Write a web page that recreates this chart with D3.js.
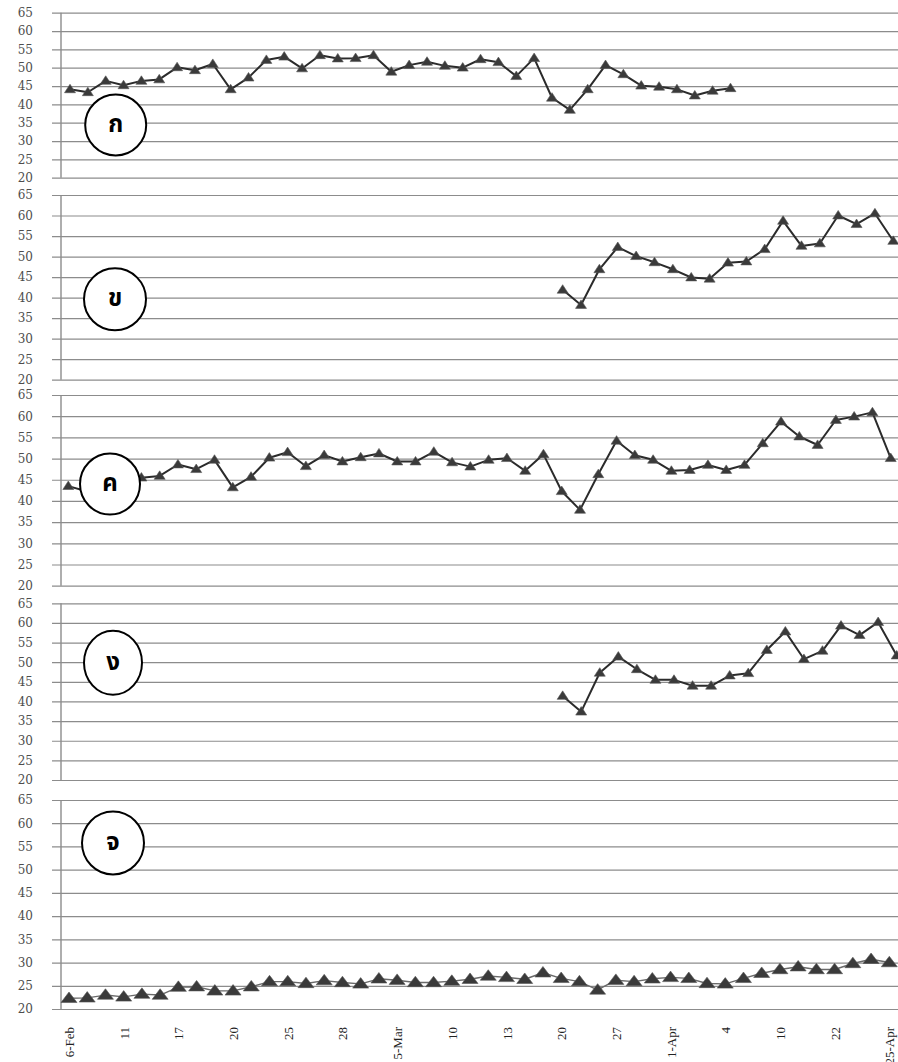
<!DOCTYPE html>
<html>
<head>
<meta charset="utf-8">
<script src="https://cdn.jsdelivr.net/npm/d3@7"></script>
<style>
  html, body { margin: 0; padding: 0; background: #fff; }
  svg { display: block; }
</style>
</head>
<body>
<svg id="chart" width="898" height="1062"></svg>
<script>
// Sampling slots along the shared date axis; only every third slot carries a label.
const xLabels = [
  "6-Feb", "", "", "11", "", "", "17", "", "", "20", "", "",
  "25", "", "", "28", "", "", "5-Mar", "", "", "10", "", "",
  "13", "", "", "20", "", "", "27", "", "", "1-Apr", "", "",
  "4", "", "", "10", "", "", "22", "", "", "25-Apr"
];
const yTicks = [20, 25, 30, 35, 40, 45, 50, 55, 60, 65];
const panelNames = ["ก", "ข", "ค", "ง", "จ"];

// Series values (first value sits on the slot given in seriesStart)
const seriesKo = [44.1, 43.3, 46.4, 45.2, 46.4, 46.8, 50.1, 49.3, 51.0, 44.1,
  47.3, 52.1, 53.0, 49.8, 53.4, 52.5, 52.6, 53.4, 48.9, 50.7,
  51.6, 50.5, 50.0, 52.3, 51.5, 47.7, 52.6, 41.8, 38.5, 44.1,
  50.7, 48.2, 45.1, 44.8, 44.1, 42.4, 43.7, 44.4];
const seriesKho = [41.9, 38.2, 46.9, 52.3, 50.1, 48.6, 46.9, 44.9, 44.6, 48.5,
  48.8, 51.8, 58.7, 52.6, 53.2, 60.0, 57.9, 60.5, 53.8];
const seriesKho2 = [43.5, 42.3, 44.8, 44.5, 45.5, 45.9, 48.6, 47.5, 49.7, 43.2,
  45.7, 50.2, 51.5, 48.2, 50.8, 49.3, 50.3, 51.2, 49.3, 49.3,
  51.6, 49.1, 48.1, 49.7, 50.1, 47.1, 51.0, 42.3, 37.9, 46.3,
  54.2, 50.8, 49.7, 47.1, 47.3, 48.5, 47.3, 48.5, 53.6, 58.7,
  55.2, 53.2, 59.1, 59.9, 60.9, 50.1];
const seriesNgo = [41.4, 37.4, 47.3, 51.4, 48.2, 45.5, 45.5, 44.0, 44.0, 46.6,
  47.2, 53.1, 57.8, 50.8, 52.9, 59.3, 56.9, 60.2, 51.7];
const seriesJo = [22.3, 22.4, 23.0, 22.6, 23.2, 23.0, 24.7, 24.8, 23.9, 23.9,
  24.8, 25.9, 25.9, 25.5, 26.1, 25.7, 25.4, 26.5, 26.2, 25.7,
  25.7, 26.0, 26.4, 27.1, 26.8, 26.4, 27.8, 26.6, 25.9, 24.1,
  26.2, 25.9, 26.5, 26.8, 26.6, 25.5, 25.4, 26.6, 27.7, 28.5,
  29.1, 28.5, 28.5, 29.8, 30.7, 30.0];
const seriesStart = [0, 27, 0, 27, 0];

// Panel layout
const W = 898;
const gridLeft = 52;
const axisX = 61;
const layout = [
  { top: 12.7,  bottom: 177.7, x0: 70,   x1: 873.3, badge: [115.7, 125, 30.5, 30.5], big: false },
  { top: 195,   bottom: 379.7, x0: 66.7, x1: 893.3, badge: [115, 299.3, 31, 31],   big: false },
  { top: 395,   bottom: 585.7, x0: 68.3, x1: 890.7, badge: [110, 484, 30, 30.5],   big: false },
  { top: 603.3, bottom: 780,   x0: 61.6, x1: 896.7, badge: [113, 662.7, 29, 32],   big: false },
  { top: 800,   bottom: 1009,  x0: 69,   x1: 889.3, badge: [113, 843, 31, 31.5],   big: true }
];
const allSeries = [seriesKo, seriesKho, seriesKho2, seriesNgo, seriesJo];

const svg = d3.select("#chart");
const slots = d3.range(xLabels.length);

function triangle(w, h) {
  return `M0,${-h * 0.6}L${w / 2},${h * 0.4}L${-w / 2},${h * 0.4}Z`;
}

layout.forEach((p, k) => {
  const y = d3.scaleLinear().domain([20, 65]).range([p.bottom, p.top]);
  const x = d3.scalePoint().domain(slots).range([p.x0, p.x1]);
  const g = svg.append("g");

  // gridlines + value labels
  const yAxis = d3.axisLeft(y)
    .tickValues(yTicks)
    .tickSize(-(W - gridLeft))
    .tickPadding(19)
    .tickFormat(d3.format("d"));
  const ya = g.append("g").attr("transform", `translate(${gridLeft},0)`).call(yAxis);
  ya.select(".domain").remove();
  ya.selectAll(".tick line").attr("stroke", "#8c8c8c").attr("stroke-width", 1.2);
  ya.selectAll(".tick text")
    .attr("font-family", "'DejaVu Serif', 'Liberation Serif', serif")
    .attr("font-size", 12)
    .attr("fill", "#4d4d4d");

  // vertical value axis
  g.append("line")
    .attr("x1", axisX).attr("x2", axisX)
    .attr("y1", y(65)).attr("y2", y(20))
    .attr("stroke", "#8c8c8c").attr("stroke-width", 1.4);

  const start = seriesStart[k];
  const pts = allSeries[k].map((v, i) => ({ slot: start + i, v }));

  const line = d3.line().x(d => x(d.slot)).y(d => y(d.v));
  g.append("path")
    .datum(pts)
    .attr("fill", "none")
    .attr("stroke", p.big ? "#6a6a6a" : "#2b2b2b")
    .attr("stroke-width", p.big ? 1.4 : 2)
    .attr("stroke-linejoin", "round")
    .attr("d", line);

  const tri = p.big ? triangle(16, 10.5) : triangle(11, 8.5);
  g.selectAll("path.mk")
    .data(pts)
    .join("path")
    .attr("class", "mk")
    .attr("transform", d => `translate(${x(d.slot)},${y(d.v)})`)
    .attr("d", tri)
    .attr("fill", "#3a3a3a")
    .attr("stroke", "#555")
    .attr("stroke-width", 0.6);

  // circled panel letter
  const [cx, cy, rx, ry] = p.badge;
  g.append("ellipse")
    .attr("cx", cx).attr("cy", cy).attr("rx", rx).attr("ry", ry)
    .attr("fill", "#fff").attr("stroke", "#000").attr("stroke-width", 2);
  g.append("text")
    .attr("x", cx).attr("y", cy)
    .attr("text-anchor", "middle")
    .attr("dominant-baseline", "central")
    .attr("font-family", "'Noto Sans Thai', 'Noto Sans', 'DejaVu Sans', sans-serif")
    .attr("font-weight", "bold")
    .attr("font-size", 24)
    .attr("fill", "#000")
    .text(panelNames[k]);

  // date axis under the last panel
  if (k === layout.length - 1) {
    const xAxis = d3.axisBottom(x)
      .tickSize(0)
      .tickFormat(i => xLabels[i]);
    const xa = g.append("g").attr("transform", `translate(0,${p.bottom})`).call(xAxis);
    xa.select(".domain").remove();
    xa.selectAll(".tick text")
      .attr("font-family", "'Liberation Serif', 'Times New Roman', serif")
      .attr("font-size", 13)
      .attr("fill", "#222")
      .attr("text-anchor", "end")
      .attr("transform", "rotate(-90)")
      .attr("x", -18)
      .attr("y", 0)
      .attr("dy", "0.35em");
  }
});
</script>
</body>
</html>
